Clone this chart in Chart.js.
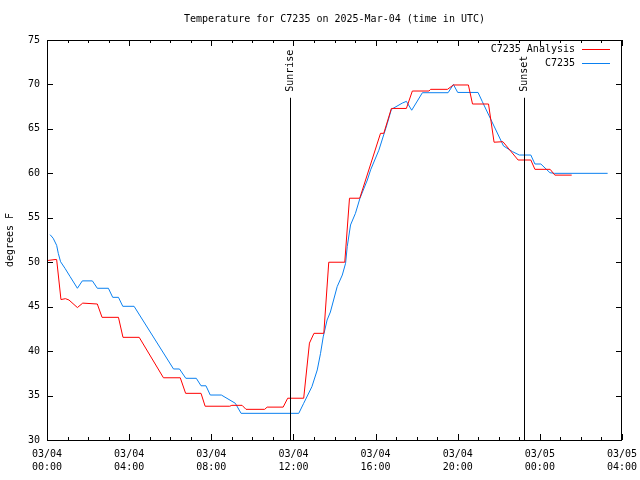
<!DOCTYPE html>
<html>
<head>
<meta charset="utf-8">
<script src="https://cdn.jsdelivr.net/npm/chart.js@4/dist/chart.umd.min.js"></script>
<style>
  html, body { margin: 0; padding: 0; background: #fff; }
  #chart { display: block; }
</style>
</head>
<body>
<canvas id="chart" width="640" height="480"></canvas>
<script>
// hours since 03/04 00:00 UTC, temperature in degrees F
const analysisHours = [0.05, 0.39, 0.47, 0.68, 0.9, 1.07, 1.48, 1.74, 2.45, 2.68, 3.48, 3.7, 4.49, 5.67, 6.49, 6.75, 7.5, 7.7, 8.9, 9.0, 9.5, 9.69, 10.6, 10.72, 11.5, 11.72, 12.5, 12.78, 13.0, 13.48, 13.72, 14.5, 14.73, 15.23, 16.24, 16.4, 16.77, 17.5, 17.79, 18.6, 18.68, 19.5, 19.79, 20.52, 20.72, 21.5, 21.77, 22.2, 22.94, 23.56, 23.76, 24.5, 24.73, 25.55];
const analysisTemps = [50.2, 50.3, 50.3, 45.8, 45.9, 45.75, 44.9, 45.4, 45.3, 43.8, 43.8, 41.55, 41.55, 37.0, 37.0, 35.25, 35.25, 33.8, 33.8, 33.9, 33.9, 33.45, 33.45, 33.7, 33.7, 34.7, 34.7, 40.9, 42.0, 42.0, 50.0, 50.0, 57.2, 57.2, 64.5, 64.5, 67.3, 67.3, 69.26, 69.26, 69.45, 69.45, 69.94, 69.94, 67.8, 67.8, 63.5, 63.56, 61.5, 61.5, 60.45, 60.45, 59.8, 59.8];

const obsHours = [0.15, 0.3, 0.47, 0.55, 0.66, 0.88, 1.12, 1.48, 1.72, 2.21, 2.45, 2.99, 3.2, 3.48, 3.69, 4.24, 6.16, 6.45, 6.76, 7.27, 7.5, 7.74, 7.95, 8.49, 9.17, 9.45, 12.26, 12.5, 12.9, 13.16, 13.32, 13.45, 13.64, 13.8, 14.13, 14.38, 14.54, 14.62, 14.78, 15.02, 15.24, 15.6, 15.76, 16.16, 16.57, 16.77, 17.3, 17.5, 17.76, 18.28, 19.53, 19.79, 20.0, 20.99, 21.2, 22.23, 22.67, 23.0, 23.56, 23.76, 24.05, 24.49, 24.7, 27.3];
const obsTemps = [53.1, 52.7, 51.9, 51.0, 50.06, 49.3, 48.4, 47.07, 47.9, 47.9, 47.07, 47.07, 46.05, 46.05, 45.04, 45.04, 37.99, 37.99, 36.94, 36.94, 36.1, 36.1, 35.06, 35.06, 34.13, 33.0, 33.0, 34.13, 36.0, 37.88, 39.75, 41.6, 43.5, 44.4, 47.25, 48.56, 49.88, 51.75, 54.19, 55.5, 57.2, 59.25, 60.4, 62.6, 65.6, 67.2, 67.9, 68.1, 67.1, 69.07, 69.07, 70.0, 69.1, 69.1, 68.06, 63.08, 62.44, 62.06, 62.06, 61.05, 61.05, 60.07, 60.0, 60.0];

const xTickDates = ['03/04', '03/04', '03/04', '03/04', '03/04', '03/04', '03/05', '03/05'];
const xTickTimes = ['00:00', '04:00', '08:00', '12:00', '16:00', '20:00', '00:00', '04:00'];

const sunLabels = ['Sunrise', 'Sunset'];
const sunHours = [11.82, 23.24];
const sunLineTop = 68.5;

const MONO = '"DejaVu Sans Mono", "Liberation Mono", monospace';

function toPoints(xs, ys) {
  return xs.map((x, i) => ({ x: x, y: ys[i] }));
}

const gnuplotFrame = {
  id: 'gnuplotFrame',
  afterDatasetsDraw(chart) {
    const ctx = chart.ctx;
    const area = chart.chartArea;
    const xs = chart.scales.x;
    const ys = chart.scales.y;
    ctx.save();
    ctx.strokeStyle = '#000';
    ctx.lineWidth = 1;

    // inward ticks on all four sides
    ctx.beginPath();
    for (let h = 0; h <= 28; h++) {
      const px = Math.round(xs.getPixelForValue(h)) + 0.5;
      const len = h % 4 === 0 ? 6 : 3;
      ctx.moveTo(px, area.bottom);
      ctx.lineTo(px, area.bottom - len);
      ctx.moveTo(px, area.top);
      ctx.lineTo(px, area.top + len);
    }
    for (let v = 30; v <= 75; v += 5) {
      const py = Math.round(ys.getPixelForValue(v)) + 0.5;
      ctx.moveTo(area.left, py);
      ctx.lineTo(area.left + 6, py);
      ctx.moveTo(area.right, py);
      ctx.lineTo(area.right - 6, py);
    }
    ctx.stroke();

    // sunrise / sunset markers
    ctx.fillStyle = '#000';
    ctx.font = '10px ' + MONO;
    sunHours.forEach((h, i) => {
      const px = Math.round(xs.getPixelForValue(h)) + 0.5;
      const top = ys.getPixelForValue(sunLineTop);
      ctx.beginPath();
      ctx.moveTo(px, top);
      ctx.lineTo(px, area.bottom);
      ctx.stroke();
      ctx.save();
      ctx.translate(px, top - 6);
      ctx.rotate(-Math.PI / 2);
      ctx.textAlign = 'left';
      ctx.textBaseline = 'middle';
      ctx.fillText(sunLabels[i], 0, 0);
      ctx.restore();
    });

    // legend, gnuplot style (text then sample line)
    ctx.textAlign = 'right';
    ctx.textBaseline = 'middle';
    chart.data.datasets.forEach((ds, i) => {
      const y = area.top + 9 + i * 14;
      ctx.fillText(ds.label, area.right - 47, y);
      ctx.strokeStyle = ds.borderColor;
      ctx.beginPath();
      ctx.moveTo(area.right - 40, y + 0.5);
      ctx.lineTo(area.right - 12, y + 0.5);
      ctx.stroke();
    });

    // border box
    ctx.strokeStyle = '#000';
    ctx.strokeRect(area.left + 0.5, area.top + 0.5, area.right - area.left - 1, area.bottom - area.top);
    ctx.restore();
  }
};

Chart.defaults.color = '#000';
Chart.defaults.font.family = MONO;
Chart.defaults.font.size = 10;

new Chart(document.getElementById('chart'), {
  type: 'line',
  data: {
    datasets: [{
      label: 'C7235 Analysis',
      data: toPoints(analysisHours, analysisTemps),
      borderColor: '#ff0000',
      borderWidth: 1,
      pointRadius: 0,
      tension: 0
    }, {
      label: 'C7235',
      data: toPoints(obsHours, obsTemps),
      borderColor: '#0a80f0',
      borderWidth: 1,
      pointRadius: 0,
      tension: 0
    }]
  },
  options: {
    responsive: false,
    animation: false,
    devicePixelRatio: 1,
    layout: { padding: { left: 0, right: 18, top: 0, bottom: 0 } },
    plugins: {
      legend: { display: false },
      tooltip: { enabled: false },
      title: {
        display: true,
        fullSize: false,
        text: 'Temperature for C7235 on 2025-Mar-04 (time in UTC)',
        font: { size: 10, weight: 'normal', family: MONO, lineHeight: 1.2 },
        color: '#000',
        padding: { top: 13, bottom: 15 }
      }
    },
    scales: {
      x: {
        type: 'linear',
        min: 0,
        max: 28,
        grid: { display: false, drawTicks: false },
        border: { display: false },
        afterFit(scale) {
          scale.height = 40;
          scale.paddingLeft = 0;
          scale.paddingRight = 0;
        },
        ticks: {
          stepSize: 4,
          autoSkip: false,
          maxRotation: 0,
          padding: 8,
          font: { size: 10, family: MONO, lineHeight: 1.3 },
          callback: (v) => {
            const i = Math.round(v / 4);
            return [xTickDates[i], xTickTimes[i]];
          }
        }
      },
      y: {
        min: 30,
        max: 75,
        grid: { display: false, drawTicks: false },
        border: { display: false },
        afterFit(scale) {
          scale.width = 47;
          scale.paddingTop = 0;
          scale.paddingBottom = 0;
        },
        title: {
          display: true,
          text: 'degrees F',
          font: { size: 10, family: MONO },
          padding: { top: 4, bottom: 0 }
        },
        ticks: {
          stepSize: 5,
          padding: 7,
          font: { size: 10, family: MONO }
        }
      }
    }
  },
  plugins: [gnuplotFrame]
});
</script>
</body>
</html>
